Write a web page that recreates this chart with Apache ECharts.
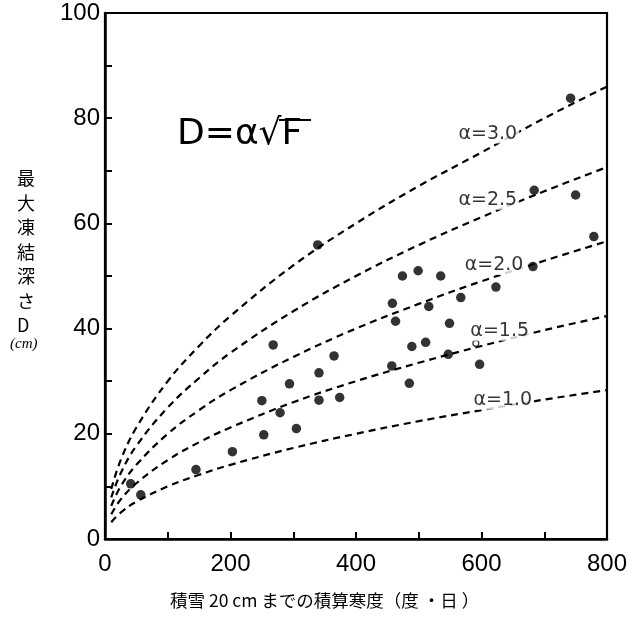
<!DOCTYPE html>
<html>
<head>
<meta charset="utf-8">
<script src="https://cdn.jsdelivr.net/npm/echarts@6/dist/echarts.min.js"></script>
<style>html,body{margin:0;padding:0;background:#fff;}#c{width:643px;height:620px;}</style>
</head>
<body>
<div id="c"></div>
<script>
// Observed points: accumulated freezing index F (deg-day) vs max frost depth D (cm)
var pointF = [41, 57, 145, 203, 250, 253, 268, 279, 294, 305, 341, 341, 339, 365, 374, 457, 458, 463, 474, 485, 489, 499, 511, 516, 535, 547, 549, 567, 597, 623, 682, 684, 742, 750, 779];
var pointD = [10.5, 8.4, 13.2, 16.6, 26.3, 19.8, 36.9, 24.0, 29.5, 21.0, 31.6, 26.4, 55.9, 34.8, 26.9, 32.9, 44.8, 41.4, 50.0, 29.6, 36.6, 51.0, 37.4, 44.2, 50.0, 35.1, 41.0, 45.9, 33.2, 47.9, 51.8, 66.3, 83.8, 65.4, 57.5];
var openF = [591];
var openD = [37.2];

// Curves D = alpha * sqrt(F)
var curveF  = [10, 25, 50, 100, 150, 200, 300, 400, 500, 600, 700, 800];
var alpha30 = [9.5, 15.0, 21.2, 30.0, 36.7, 42.4, 52.0, 60.0, 67.1, 73.5, 80.0, 86.0];
var alpha25 = [7.9, 12.5, 17.7, 25.0, 30.6, 35.4, 43.3, 50.0, 55.9, 61.2, 66.1, 70.7];
var alpha20 = [6.3, 10.0, 14.1, 20.0, 24.5, 28.3, 34.6, 40.0, 44.7, 49.0, 52.9, 56.6];
var alpha15 = [4.7, 7.5, 10.6, 15.0, 18.4, 21.2, 26.0, 30.0, 33.5, 36.7, 39.7, 42.4];
var alpha10 = [3.2, 5.0, 7.1, 10.0, 12.2, 14.1, 17.3, 20.0, 22.4, 24.5, 26.5, 28.3];

var curveNames = ['α=3.0', 'α=2.5', 'α=2.0', 'α=1.5', 'α=1.0'];
var labelF = [610, 610, 620, 629, 634];
var labelD = [77, 64.4, 52, 39.5, 26.4];

var xTicks = [0, 200, 400, 600, 800];
var yTicks = [0, 20, 40, 60, 80, 100];

function pairs(xs, ys) { return xs.map(function (x, i) { return [x, ys[i]]; }); }

var curves = [alpha30, alpha25, alpha20, alpha15, alpha10];
var series = curves.map(function (c, i) {
  return {
    type: 'line', name: curveNames[i], data: pairs(curveF, c), smooth: 0.4,
    showSymbol: false, symbol: 'none', silent: true,
    lineStyle: { color: '#000', width: 2.2, type: [7, 5] }, z: 2
  };
});
series.push({
  type: 'scatter', data: pairs(pointF, pointD), symbol: 'circle', symbolSize: 9.5,
  itemStyle: { color: '#000' }, z: 4
});
series.push({
  type: 'scatter', data: pairs(openF, openD), symbol: 'circle', symbolSize: 6,
  itemStyle: { color: '#fff', borderColor: '#000', borderWidth: 1.2 }, z: 4
});
series.push({
  type: 'scatter', data: labelF.map(function (f, i) { return { value: [f, labelD[i]], name: curveNames[i] }; }),
  symbolSize: 0, z: 5,
  label: {
    show: true, position: 'inside', formatter: '{b}', color: '#000',
    fontFamily: 'DejaVu Sans', fontSize: 19, backgroundColor: '#fff', padding: [0, 2]
  }
});

var tickFont = 'Liberation Sans';
var chart = echarts.init(document.getElementById('c'), null, { renderer: 'canvas' });
chart.setOption({
  backgroundColor: '#fff',
  animation: false,
  grid: { left: 105, right: 36, top: 13, bottom: 81, show: true, borderColor: '#000', borderWidth: 2.2, containLabel: false },
  xAxis: {
    type: 'value', min: 0, max: 800, interval: 100,
    axisLine: { show: true, lineStyle: { color: '#000', width: 2.5 } },
    axisTick: { show: true, inside: true, length: 7, lineStyle: { color: '#000', width: 2 } },
    splitLine: { show: false },
    axisLabel: {
      margin: 13, color: '#000', fontSize: 24, fontFamily: tickFont,
      formatter: function (v) { return xTicks.indexOf(v) >= 0 ? String(v) : ''; }
    }
  },
  yAxis: {
    type: 'value', min: 0, max: 100, interval: 10,
    axisLine: { show: true, lineStyle: { color: '#000', width: 2.5 } },
    axisTick: { show: true, inside: true, length: 7, lineStyle: { color: '#000', width: 2 } },
    splitLine: { show: false },
    axisLabel: {
      margin: 5, color: '#000', fontSize: 24, fontFamily: tickFont,
      formatter: function (v) { return yTicks.indexOf(v) >= 0 ? String(v) : ''; }
    }
  },
  graphic: [
    { type: 'text', left: 177, top: 117, style: { text: 'D=α√F', fontSize: 36, fontFamily: 'DejaVu Sans', fill: '#000' } },
    { type: 'line', shape: { x1: 279, y1: 120, x2: 311, y2: 120 }, style: { stroke: '#000', lineWidth: 2 } },
    { type: 'text', left: 17, top: 166, style: { text: '最\n大\n凍\n結\n深\nさ\nD', fontSize: 18, lineHeight: 24.5, fontFamily: 'Noto Sans CJK JP', fill: '#000', align: 'center' } },
    { type: 'text', left: 10, top: 337, style: { text: '(cm)', fontSize: 15, fontStyle: 'italic', fontFamily: 'Liberation Serif', fill: '#000' } },
    { type: 'text', left: 170, top: 592, style: { text: '積雪 20 cm までの積算寒度（度 ・日 ）', fontSize: 17.5, fontFamily: 'Noto Sans CJK JP', fill: '#000' } }
  ],
  series: series
});
</script>
</body>
</html>
